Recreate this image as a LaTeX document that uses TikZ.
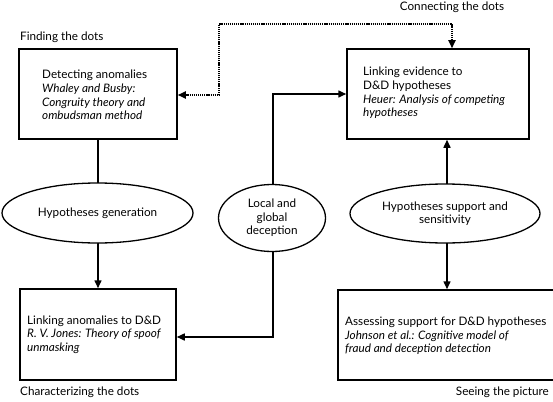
\documentclass[tikz,border=0pt]{standalone}
\usepackage{fontspec}
\setmainfont{Lato}
\usetikzlibrary{shapes.geometric,arrows.meta}
\begin{document}
\begin{tikzpicture}[x=1pt,y=-1pt,
  every node/.style={font=\fontsize{11.7}{13.6}\selectfont},
  box/.style={draw,line width=1.5pt,rectangle,inner sep=0pt},
  txt/.style={align=left,inner sep=0pt,anchor=west},
  lbl/.style={inner sep=0pt},
  oval/.style={draw,line width=1.3pt,ellipse,fill=white,inner sep=0pt,align=center},
  conn/.style={line width=1.5pt},
  tip/.style={-{Triangle[length=8pt,width=7pt]}},
  dots/.style={line width=1.8pt,dash pattern=on 1.2pt off 0.9pt}
]
\useasboundingbox (0,0) rectangle (553,401);

% boxes
\node[box,minimum width=158pt,minimum height=90pt] (b1) at (98,94) {};
\node[box,minimum width=182pt,minimum height=90pt] (b2) at (438,94) {};
\node[box,minimum width=156pt,minimum height=91pt] (b3) at (98,334.5) {};
\node[box,minimum width=224pt,minimum height=90pt] (b4) at (450,335) {};

% box texts
\node[txt] (t1) at (42,95) {Detecting anomalies\\\textit{Whaley and Busby:}\\\textit{Congruity theory and}\\\textit{ombudsman method}};
\node[txt] (t2) at (363,93) {Linking evidence to\\D\&D hypotheses\\\textit{Heuer: Analysis of competing}\\\textit{hypotheses}};
\node[txt] (t3) at (27,334.5) {Linking anomalies to D\&D\\\textit{R. V. Jones: Theory of spoof}\\\textit{unmasking}};
\node[txt] (t4) at (345,336) {Assessing support for D\&D hypotheses\\\textit{Johnson et al.: Cognitive model of}\\\textit{fraud and deception detection}};

% outside labels
\node[lbl,anchor=west] (l1) at (20,37) {Finding the dots};
\node[lbl] (l2) at (452,7) {Connecting the dots};
\node[lbl,anchor=west] (l3) at (20,392) {Characterizing the dots};
\node[lbl,anchor=east] (l4) at (549,392) {Seeing the picture};

% coordinates
\coordinate (dl) at (219,24);
\coordinate (dr) at (452,24);

% connectors (drawn before ellipses)
\draw[conn] (b1.south) -- (98,183);
\draw[conn,tip] (98,243) -- (b3.north);
\draw[conn,tip] (273,250) |- (b3.east |- 0,337);
\draw[conn,tip] (273,186) |- (b2.west);
\draw[conn,tip] (447,184) -- (b2.south -| 447,0);
\draw[conn,tip] (447,243) -- (b4.north -| 447,0);
\draw[dots,{Triangle[length=8pt,width=7pt]}-{Triangle[length=8pt,width=7pt]}] (b1.east |- 0,95) -| (dl) -- (dr) -- (dr |- b2.north);

% ellipses
\node[oval,minimum width=191pt,minimum height=60pt] (e1) at (97.5,213) {Hypotheses generation};
\node[oval,minimum width=107pt,minimum height=67pt] (e2) at (272,218) {Local and\\global\\deception};
\node[oval,minimum width=190pt,minimum height=59pt] (e3) at (445,213.5) {Hypotheses support and\\sensitivity};
\end{tikzpicture}
\end{document}
